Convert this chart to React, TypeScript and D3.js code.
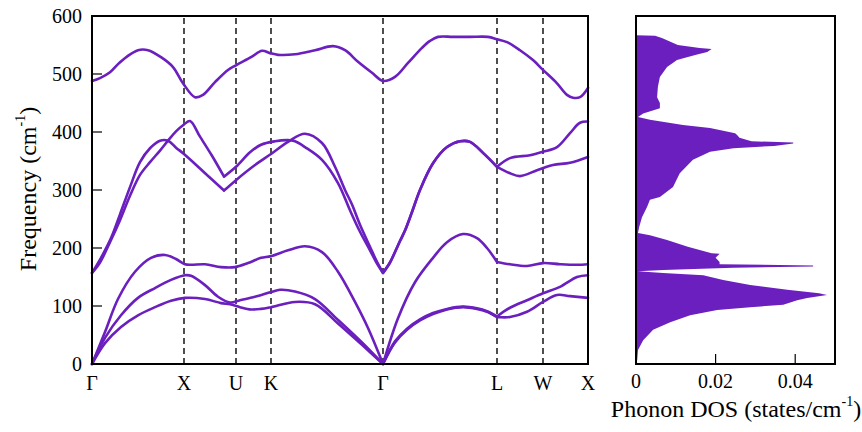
import { useEffect, useRef } from "react";
import { select, scaleLinear, line, area, curveCatmullRom, curveLinear } from "d3";

const width = 862;
const height = 432;
const purple = "#6a1fbe";

// high-symmetry path (k distance along path, arbitrary units)
const kLabels = ["Γ", "X", "U", "K", "Γ", "L", "W", "X"];
const kPoints = [0, 92, 144, 179, 291, 405, 451, 496];
const freqTicks = [0, 100, 200, 300, 400, 500, 600];
const dosTicks = [0, 0.02, 0.04];

// phonon branches: [k, frequency cm^-1]
const branch1 = [
  [0, 0], [13, 36], [29, 64], [46, 84], [63, 98], [79, 109], [93, 114], [113, 112],
  [129, 105], [138, 103], [148, 98], [159, 94], [169, 95], [179, 98], [203, 107],
  [223, 103], [246, 70], [270, 33], [291, 0], [303, 37], [315, 59], [328, 75],
  [341, 86], [355, 94], [371, 98], [385, 95], [395, 90], [405, 81], [418, 81],
  [435, 90], [451, 107], [465, 119], [478, 117], [496, 114],
];
const branch2 = [
  [0, 0], [13, 45], [29, 84], [46, 114], [63, 131], [79, 145], [93, 153], [99, 152],
  [113, 136], [126, 116], [138, 106], [148, 110], [163, 116], [179, 124], [188, 128],
  [203, 125], [223, 112], [246, 76], [270, 37], [291, 0], [303, 39], [315, 61],
  [328, 77], [341, 88], [355, 95], [371, 99], [385, 96], [395, 91], [405, 82],
  [418, 97], [435, 110], [451, 122], [468, 133], [485, 150], [496, 153],
];
const branch3 = [
  [0, 0], [13, 55], [26, 112], [43, 159], [59, 183], [73, 188], [84, 181], [93, 172],
  [99, 171], [113, 172], [129, 167], [143, 167], [156, 174], [169, 183], [179, 186],
  [196, 196], [213, 203], [230, 193], [246, 159], [263, 107], [276, 62], [291, 0],
  [306, 79], [323, 141], [341, 183], [355, 210], [371, 224], [385, 217], [395, 200],
  [405, 176], [418, 172], [435, 169], [451, 174], [468, 172], [485, 171], [496, 172],
];
const branch4 = [
  [0, 157], [9, 183], [19, 217], [28, 258], [38, 305], [48, 348], [58, 372], [68, 385],
  [76, 385], [84, 373], [92, 362], [108, 337], [120, 318], [132, 299], [144, 317],
  [163, 343], [179, 362], [196, 383], [213, 397], [230, 381], [243, 340], [253, 300],
  [260, 275], [268, 240], [278, 202], [285, 176], [291, 157], [298, 175], [303, 193],
  [308, 212], [313, 230], [320, 262], [328, 300], [341, 346], [355, 374], [368, 384],
  [378, 383], [391, 364], [405, 340], [418, 329], [428, 324], [445, 334], [461, 343],
  [478, 347], [496, 357],
];
const branch5 = [
  [0, 157], [8, 175], [18, 210], [28, 248], [38, 290], [48, 326], [58, 348], [68, 368],
  [76, 385], [84, 401], [92, 413], [98, 419], [108, 392], [120, 359], [132, 323],
  [144, 340], [158, 365], [169, 378], [183, 384], [196, 386], [203, 384], [213, 374],
  [230, 352], [246, 312], [258, 265], [268, 228], [278, 196], [285, 173], [291, 157],
  [298, 175], [303, 193], [308, 212], [313, 230], [320, 262], [328, 300], [341, 346],
  [355, 374], [368, 384], [378, 383], [391, 364], [405, 340], [418, 355], [438, 360],
  [451, 366], [465, 374], [478, 398], [488, 416], [496, 418],
];
const branch6 = [
  [0, 488], [8, 493], [18, 503], [26, 517], [35, 530], [46, 541], [56, 541], [69, 529],
  [81, 512], [91, 484], [103, 460], [111, 464], [123, 486], [136, 507], [144, 515],
  [159, 529], [170, 540], [178, 536], [186, 533], [203, 534], [223, 541], [241, 548],
  [253, 541], [266, 521], [280, 502], [291, 488], [303, 495], [316, 519], [330, 545],
  [338, 557], [346, 564], [361, 564], [378, 564], [396, 564], [405, 560], [415, 555],
  [428, 541], [441, 524], [451, 507], [465, 484], [475, 464], [481, 459], [488, 460],
  [496, 476],
];
const branches = [branch1, branch2, branch3, branch4, branch5, branch6];
// k values where a branch has a sharp corner
const branchCusps = [
  [291, 405], [291, 405], [291, 405], [132, 291, 405], [132, 291, 405], [],
];

// phonon density of states
const dosFreq = [
  0, 7, 24, 41, 59, 72, 84, 93, 98, 102, 110, 114, 119, 122, 128, 136, 145, 153, 157,
  160, 162, 166, 168, 170, 172, 176, 183, 190, 191, 202, 214, 222, 226, 236, 253, 271,
  283, 288, 305, 329, 352, 366, 372, 376, 380, 382, 384, 390, 395, 398, 407, 412, 421,
  426, 432, 441, 450, 460, 478, 495, 512, 524, 529, 534, 538, 543, 545, 550, 562, 566,
  567,
];
const dosValue = [
  0, 0.0003, 0.0005, 0.0018, 0.0043, 0.0086, 0.0136, 0.0204, 0.0287, 0.037, 0.0405,
  0.043, 0.048, 0.046, 0.038, 0.0287, 0.0219, 0.0169, 0.0068, 0.0005, 0.0068, 0.0244,
  0.0445, 0.0445, 0.021, 0.021, 0.02, 0.021, 0.019, 0.013, 0.0078, 0.0035, 0.0005,
  0.0008, 0.0015, 0.0028, 0.0035, 0.006, 0.0093, 0.011, 0.0143, 0.0186, 0.0245, 0.0347,
  0.0395, 0.0395, 0.029, 0.026, 0.0254, 0.0249, 0.0186, 0.0118, 0.0035, 0.0005, 0.0018,
  0.006, 0.006, 0.0053, 0.0055, 0.006, 0.0078, 0.0103, 0.0128, 0.0156, 0.0179, 0.019,
  0.016, 0.0105, 0.0065, 0.0048, 0,
];

const serif = "'Liberation Serif', 'Times New Roman', serif";

const App = () => {
  const svgRef = useRef(null);

  useEffect(() => {
    const svg = select(svgRef.current);
    svg.selectAll("*").remove();

    const x = scaleLinear().domain([0, kPoints[kPoints.length - 1]]).range([92, 588]);
    const y = scaleLinear().domain([0, 600]).range([364, 16]);
    const xDos = scaleLinear().domain([0, 0.05]).range([636, 835]);

    // band structure panel
    const bands = svg.append("g");
    bands
      .selectAll(".kline")
      .data(kPoints.slice(1, -1))
      .join("line")
      .attr("x1", (d) => x(d))
      .attr("x2", (d) => x(d))
      .attr("y1", y(0))
      .attr("y2", y(600))
      .attr("stroke", "#222")
      .attr("stroke-width", 1.6)
      .attr("stroke-dasharray", "6,4");

    const bandLine = line()
      .x((d) => x(d[0]))
      .y((d) => y(d[1]))
      .curve(curveCatmullRom.alpha(0.5));

    branches.forEach((pts, i) => {
      const cusps = branchCusps[i];
      const pieces = [];
      let cur = [];
      pts.forEach((p) => {
        cur.push(p);
        if (cusps.includes(p[0]) && cur.length > 1) {
          pieces.push(cur);
          cur = [p];
        }
      });
      if (cur.length > 1) pieces.push(cur);
      bands
        .append("path")
        .attr("d", pieces.map((s) => bandLine(s)).join(""))
        .attr("fill", "none")
        .attr("stroke", purple)
        .attr("stroke-width", 2.6)
        .attr("stroke-linejoin", "round")
        .attr("stroke-linecap", "round");
    });

    bands
      .append("rect")
      .attr("x", 92)
      .attr("y", 16)
      .attr("width", 496)
      .attr("height", 348)
      .attr("fill", "none")
      .attr("stroke", "#000")
      .attr("stroke-width", 2);

    bands
      .selectAll(".ytick")
      .data(freqTicks)
      .join("line")
      .attr("x1", 92)
      .attr("x2", 102)
      .attr("y1", (d) => y(d))
      .attr("y2", (d) => y(d))
      .attr("stroke", "#000")
      .attr("stroke-width", 1.2);

    bands
      .selectAll(".ylab")
      .data(freqTicks)
      .join("text")
      .attr("x", 82)
      .attr("y", (d) => y(d))
      .attr("dy", "0.34em")
      .attr("text-anchor", "end")
      .attr("font-size", 20)
      .text((d) => d);

    bands
      .selectAll(".klab")
      .data(kLabels)
      .join("text")
      .attr("x", (d, i) => x(kPoints[i]))
      .attr("y", 390)
      .attr("text-anchor", "middle")
      .attr("font-size", 20)
      .text((d) => d);

    const yTitle = bands
      .append("text")
      .attr("transform", "translate(36,189) rotate(-90)")
      .attr("text-anchor", "middle")
      .attr("font-size", 24);
    yTitle.append("tspan").text("Frequency (cm");
    yTitle.append("tspan").attr("dy", -11).attr("font-size", 14).text("-1");
    yTitle.append("tspan").attr("dy", 11).text(")");

    // DOS panel
    const dos = svg.append("g");
    const dosData = dosFreq.map((f, i) => ({ f, v: dosValue[i] }));
    const dosArea = area()
      .y((d) => y(d.f))
      .x0(xDos(0))
      .x1((d) => xDos(d.v))
      .curve(curveLinear);
    dos.append("path").attr("d", dosArea(dosData)).attr("fill", purple);

    dos
      .append("rect")
      .attr("x", 636)
      .attr("y", 16)
      .attr("width", 199)
      .attr("height", 348)
      .attr("fill", "none")
      .attr("stroke", "#000")
      .attr("stroke-width", 2);

    dos
      .selectAll(".xtick")
      .data(dosTicks.slice(1))
      .join("line")
      .attr("x1", (d) => xDos(d))
      .attr("x2", (d) => xDos(d))
      .attr("y1", 364)
      .attr("y2", 354)
      .attr("stroke", "#000")
      .attr("stroke-width", 1.2);

    dos
      .selectAll(".xlab")
      .data(dosTicks)
      .join("text")
      .attr("x", (d) => xDos(d))
      .attr("y", 388)
      .attr("text-anchor", "middle")
      .attr("font-size", 20)
      .text((d) => (d === 0 ? "0" : String(d)));

    const xTitle = dos
      .append("text")
      .attr("x", 736)
      .attr("y", 417)
      .attr("text-anchor", "middle")
      .attr("font-size", 24);
    xTitle.append("tspan").text("Phonon DOS (states/cm");
    xTitle.append("tspan").attr("dy", -11).attr("font-size", 14).text("-1");
    xTitle.append("tspan").attr("dy", 11).text(")");
  }, []);

  return (
    <svg
      ref={svgRef}
      width={width}
      height={height}
      style={{ position: "absolute", left: 0, top: 0, background: "#fff", fontFamily: serif }}
    />
  );
};

export default App;
